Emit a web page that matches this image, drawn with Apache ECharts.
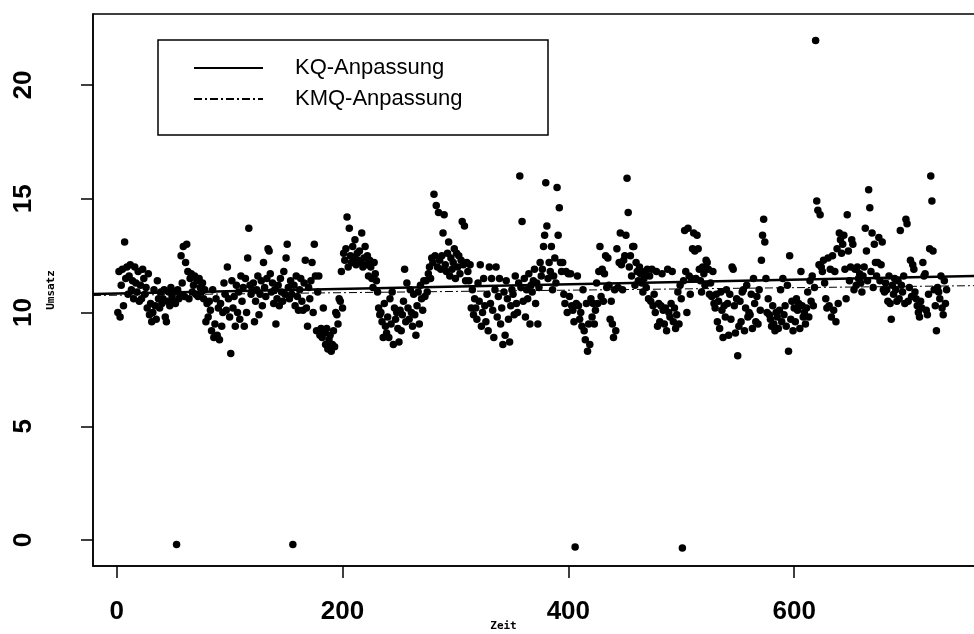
<!DOCTYPE html>
<html>
<head>
<meta charset="utf-8">
<script src="https://cdn.jsdelivr.net/npm/echarts@6/dist/echarts.min.js"></script>
<style>
  html, body { margin: 0; padding: 0; background: #fff; }
  #chart { width: 974px; height: 634px; }
</style>
</head>
<body>
<div id="chart"></div>
<script>
// Umsatz per Zeitpunkt t = 1 .. 735
const umsatz = [
  10.0, 11.8, 9.8, 11.2, 11.9, 10.3, 13.1, 11.5, 12.0, 10.8,
  11.6, 12.1, 11.0, 11.4, 10.6, 12.0, 11.3, 10.9, 11.8, 10.5,
  11.2, 10.6, 11.9, 11.5, 10.8, 11.1, 10.2, 11.7, 9.9, 10.4,
  9.6, 10.0, 11.0, 10.3, 9.7, 11.4, 10.6, 10.2, 10.9, 10.4,
  10.6, 11.0, 9.8, 9.6, 10.5, 10.9, 10.3, 11.1, 10.7, 10.5,
  10.9, 10.4, -0.2, 11.0, 10.6, 10.8, 12.5, 11.3, 12.9, 10.7,
  12.2, 13.0, 11.8, 10.6, 11.5, 11.7, 10.9, 11.2, 11.6, 10.8,
  11.4, 10.7, 11.5, 11.1, 10.9, 11.3, 10.6, 11.0, 9.6, 10.4,
  9.8, 10.5, 10.1, 9.2, 11.0, 8.9, 9.5, 10.6, 9.0, 10.2,
  8.8, 10.4, 9.4, 10.0, 11.3, 10.8, 10.1, 12.0, 10.6, 9.8,
  8.2, 11.4, 10.2, 10.7, 9.4, 11.2, 10.0, 10.9, 9.7, 11.6,
  10.5, 11.1, 9.4, 11.5, 10.0, 12.4, 13.7, 11.2, 10.8, 11.0,
  11.3, 9.6, 10.5, 11.0, 11.6, 9.9, 10.8, 11.4, 10.3, 12.2,
  11.1, 10.7, 11.5, 12.8, 12.7, 11.7, 10.9, 11.3, 10.4, 11.0,
  9.5, 10.6, 11.2, 10.3, 11.5, 10.9, 10.5, 11.8, 10.8, 12.4,
  13.0, 11.1, 10.6, 11.4, 10.8, -0.2, 11.2, 10.3, 11.6, 10.7,
  10.1, 11.0, 11.5, 10.5, 10.1, 11.3, 12.3, 10.2, 9.4, 11.1,
  10.6, 11.4, 12.2, 10.0, 13.0, 11.6, 9.2, 10.9, 11.6, 9.0,
  9.3, 8.9, 10.2, 9.1, 8.6, 9.3, 8.4, 8.8, 9.0, 8.3,
  8.6, 9.2, 8.5, 10.0, 9.9, 9.5, 10.6, 10.5, 11.8, 10.2,
  12.6, 12.3, 12.8, 14.2, 12.0, 13.7, 12.5, 12.2, 12.9, 12.4,
  13.2, 12.1, 12.6, 12.3, 12.7, 12.2, 13.5, 12.0, 12.4, 12.9,
  12.1, 12.5, 11.6, 12.3, 12.0, 11.5, 11.1, 12.2, 11.7, 11.4,
  10.9, 10.2, 9.9, 10.0, 9.6, 8.9, 10.4, 9.4, 9.1, 9.8,
  8.9, 10.6, 9.5, 10.9, 8.6, 10.2, 9.7, 10.0, 9.3, 8.7,
  10.1, 9.2, 9.9, 10.5, 11.9, 9.6, 11.3, 10.2, 9.7, 11.0,
  10.0, 9.4, 10.8, 9.9, 9.0, 10.3, 10.9, 9.5, 11.2, 10.6,
  10.1, 11.4, 10.7, 11.4, 10.9, 11.7, 12.0, 11.5, 12.4, 12.2,
  15.2, 12.5, 14.7, 12.0, 14.4, 12.3, 11.9, 12.5, 13.5, 14.3,
  12.1, 11.8, 12.6, 13.1, 11.6, 12.4, 11.9, 12.2, 12.8, 11.5,
  12.6, 12.0, 12.5, 11.7, 12.3, 14.0, 12.1, 13.8, 11.4, 12.2,
  11.8, 11.4, 12.1, 10.2, 11.0, 9.9, 10.6, 10.2, 9.7, 11.3,
  10.5, 12.1, 9.4, 10.0, 11.5, 10.3, 9.6, 10.8, 9.2, 12.0,
  10.4, 11.5, 10.1, 8.9, 11.0, 12.0, 9.8, 10.7, 11.5, 9.5,
  10.2, 8.6, 10.9, 9.0, 11.4, 10.6, 9.7, 8.7, 10.3, 11.0,
  10.8, 9.9, 11.6, 10.4, 10.0, 11.3, 16.0, 11.1, 14.0, 10.5,
  11.5, 9.8, 11.0, 10.6, 11.7, 9.5, 11.2, 10.9, 11.4, 11.9,
  10.4, 11.3, 9.5, 11.1, 12.2, 11.6, 11.9, 12.9, 13.4, 15.7,
  13.8, 11.5, 12.2, 11.8, 12.9, 11.0, 11.6, 12.4, 11.3, 15.5,
  13.4, 14.6, 12.2, 11.8, 12.2, 10.8, 10.4, 11.8, 10.0, 11.7,
  10.7, 11.7, 10.3, 10.1, 9.6, -0.3, 10.4, 11.6, 10.3, 9.7,
  10.0, 9.4, 11.0, 9.2, 8.8, 10.4, 8.3, 9.5, 8.6, 10.6,
  9.8, 10.4, 9.5, 10.1, 11.3, 10.4, 11.8, 12.9, 10.7, 11.9,
  10.5, 11.7, 12.5, 11.1, 12.4, 11.2, 9.7, 10.5, 9.5, 8.9,
  11.0, 9.2, 12.8, 11.1, 12.2, 13.5, 12.1, 11.0, 12.3, 12.5,
  13.4, 15.9, 14.4, 12.0, 12.5, 11.6, 12.9, 12.9, 11.2, 12.2,
  11.8, 11.4, 12.0, 11.7, 11.3, 10.9, 11.5, 11.8, 11.1, 11.9,
  10.6, 11.6, 10.5, 11.9, 10.3, 10.8, 10.0, 11.8, 9.4, 10.4,
  9.6, 10.3, 11.7, 10.1, 9.5, 10.2, 9.2, 11.9, 10.0, 9.8,
  10.4, 11.8, 9.6, 10.2, 9.3, 9.9, 10.9, 9.5, 11.2, 10.6,
  -0.35, 11.4, 13.6, 11.8, 10.0, 13.7, 11.6, 10.8, 11.5, 12.8,
  13.5, 12.7, 11.5, 13.4, 12.8, 11.9, 11.4, 10.9, 12.0, 11.7,
  11.2, 12.3, 12.2, 11.9, 10.8, 11.3, 10.7, 11.8, 10.4, 10.2,
  10.8, 9.6, 10.5, 9.3, 10.9, 10.1, 8.9, 10.3, 9.8, 11.0,
  10.4, 9.0, 10.8, 9.7, 12.0, 11.9, 10.3, 9.1, 10.6, 8.1,
  9.4, 10.5, 9.6, 10.9, 11.0, 9.2, 10.2, 11.2, 9.8, 10.0,
  9.9, 10.8, 9.3, 11.5, 10.4, 9.6, 10.7, 9.5, 11.0, 10.1,
  12.3, 13.4, 14.1, 13.1, 11.5, 10.0, 10.6, 9.9, 9.7, 9.4,
  10.3, 9.5, 9.2, 10.0, 9.8, 9.3, 10.1, 11.0, 9.6, 11.5,
  9.9, 10.3, 9.4, 11.2, 8.3, 12.5, 9.7, 10.5, 9.2, 10.2,
  9.6, 10.6, 10.1, 10.4, 9.3, 11.8, 10.3, 9.8, 10.0, 9.5,
  10.2, 10.9, 9.8, 11.4, 10.5, 11.6, 10.3, 11.1, 21.95, 14.9,
  14.5, 12.1, 14.3, 12.0, 11.8, 12.3, 11.3, 10.6, 10.2, 12.4,
  10.3, 11.9, 9.8, 12.5, 10.1, 11.8, 9.6, 12.8, 10.4, 13.5,
  13.2, 12.6, 13.0, 13.4, 11.9, 10.6, 14.3, 12.7, 11.4, 12.0,
  13.2, 13.0, 11.0, 11.9, 11.2, 12.0, 11.5, 11.7, 11.3, 10.9,
  11.6, 12.0, 13.7, 12.7, 11.4, 15.4, 14.6, 11.8, 13.5, 11.1,
  13.0, 12.2, 11.6, 12.2, 13.3, 11.4, 12.1, 13.1, 11.0, 10.9,
  11.3, 11.0, 10.5, 11.6, 10.4, 9.7, 11.2, 10.8, 11.5, 11.0,
  10.5, 11.4, 10.6, 13.6, 11.2, 10.9, 11.6, 10.4, 14.1, 13.9,
  10.5, 11.1, 12.3, 10.7, 12.1, 11.9, 10.9, 10.6, 10.3, 10.0,
  9.8, 10.5, 10.2, 12.2, 11.6, 11.7, 10.1, 9.9, 10.8, 12.8,
  16.0, 14.9, 12.7, 11.0, 10.3, 9.2, 11.1, 10.9, 10.6, 11.6,
  10.2, 9.9, 11.4, 10.4, 11.0
];

// fitted lines, ends at the left and right border of the plot
const lineX = [-21, 777];
const kqLine = [10.81, 11.62];
const kmqLine = [10.75, 11.19];

const xTicks = [0, 200, 400, 600];
const yTicks = [0, 5, 10, 15, 20];

const points = umsatz.map((v, i) => [i + 1, v]);

const chart = echarts.init(document.getElementById('chart'), null, { renderer: 'canvas' });

const tickFont = {
  fontFamily: '"Liberation Sans Narrow", "Liberation Sans", Arial, sans-serif',
  fontWeight: 'bold',
  fontSize: 26,
  color: '#000'
};
const nameFont = {
  fontFamily: '"DejaVu Sans Mono", "Liberation Mono", monospace',
  fontWeight: 'bold',
  fontSize: 11,
  color: '#000'
};

chart.setOption({
  backgroundColor: '#fff',
  animation: false,
  grid: {
    left: 93, right: -20, top: 14, bottom: 68,
    outerBoundsMode: 'none',
    show: true, borderColor: '#000', borderWidth: 1.5
  },
  xAxis: {
    type: 'value',
    min: lineX[0], max: lineX[1],
    name: 'Zeit',
    nameLocation: 'middle',
    nameGap: 55,
    nameMoveOverlap: false,
    nameTextStyle: Object.assign({ padding: [0, 80, 0, 0] }, nameFont),
    axisLine: { show: true, onZero: false, lineStyle: { color: '#000', width: 1.5 } },
    axisTick: { show: true, length: 12, customValues: xTicks, lineStyle: { color: '#000', width: 1.5 } },
    axisLabel: Object.assign({ customValues: xTicks, margin: 33 }, tickFont),
    splitLine: { show: false }
  },
  yAxis: {
    type: 'value',
    min: -1.14, max: 23.12,
    name: 'Umsatz',
    nameLocation: 'middle',
    nameGap: 36,
    nameRotate: 90,
    nameMoveOverlap: false,
    nameTextStyle: nameFont,
    axisLine: { show: true, onZero: false, lineStyle: { color: '#000', width: 1.5 } },
    axisTick: { show: true, length: 12, customValues: yTicks, lineStyle: { color: '#000', width: 1.5 } },
    axisLabel: Object.assign({ customValues: yTicks, rotate: 90, margin: 56 }, tickFont),
    splitLine: { show: false }
  },
  legend: {
    data: ['KQ-Anpassung', 'KMQ-Anpassung'],
    orient: 'vertical',
    left: 193, top: 57,
    padding: 0,
    itemWidth: 69, itemHeight: 14, itemGap: 9,
    itemStyle: { opacity: 0 },
    textStyle: {
      fontFamily: '"Liberation Sans", Arial, sans-serif',
      fontSize: 22, lineHeight: 22, color: '#000',
      padding: [0, 0, 0, 27]
    }
  },
  graphic: [{
    type: 'rect',
    shape: { x: 158, y: 40, width: 390, height: 95 },
    style: { fill: null, stroke: '#000', lineWidth: 1.5 },
    z: 10
  }],
  series: [
    {
      name: 'Umsatz',
      type: 'scatter',
      data: points,
      symbol: 'circle',
      symbolSize: 7.5,
      itemStyle: { color: '#000', opacity: 1 },
      z: 2
    },
    {
      name: 'KQ-Anpassung',
      type: 'line',
      data: lineX.map((x, i) => [x, kqLine[i]]),
      symbol: 'none',
      itemStyle: { color: '#000' },
      lineStyle: { color: '#000', width: 2.5, type: 'solid' },
      z: 3
    },
    {
      name: 'KMQ-Anpassung',
      type: 'line',
      data: lineX.map((x, i) => [x, kmqLine[i]]),
      symbol: 'none',
      itemStyle: { color: '#000' },
      lineStyle: { color: '#000', width: 1, type: [8, 3, 2, 3] },
      z: 3
    }
  ]
});
</script>
</body>
</html>
